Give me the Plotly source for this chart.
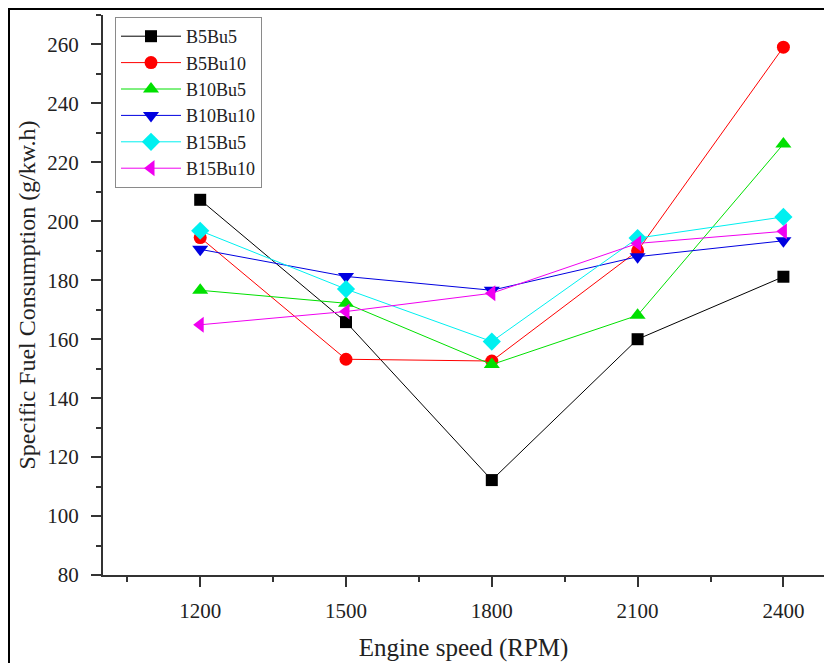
import plotly.graph_objects as go

# Engine speed (RPM) and specific fuel consumption (g/kW.h) per blend
speeds = [1200, 1500, 1800, 2100, 2400]
b5bu5 = [207.3, 165.8, 112.2, 160.0, 181.2]
b5bu10 = [194.5, 153.2, 152.6, 190.0, 259.1]
b10bu5 = [176.6, 172.2, 151.4, 168.1, 226.2]
b10bu10 = [190.5, 181.3, 176.6, 188.0, 193.4]
b15bu5 = [196.8, 177.0, 159.2, 194.3, 201.5]
b15bu10 = [164.9, 169.4, 175.6, 192.5, 196.6]

series_names = ["B5Bu5", "B5Bu10", "B10Bu5", "B10Bu10", "B15Bu5", "B15Bu10"]
series_values = [b5bu5, b5bu10, b10bu5, b10bu10, b15bu5, b15bu10]
colors = ["#000000", "#FF0000", "#00E000", "#0000E0", "#00F0F0", "#F000F0"]
symbols = ["square", "circle", "triangle-up", "triangle-down", "diamond", "triangle-left"]
sizes = [12, 13, 14, 14, 14, 14]

FONT = "Liberation Serif, Times New Roman, serif"
TXT = "#222222"

fig = go.Figure()
for name, vals, c, s, sz in zip(series_names, series_values, colors, symbols, sizes):
    fig.add_trace(go.Scatter(
        x=speeds, y=vals, name=name, mode="lines+markers",
        line=dict(color=c, width=1),
        marker=dict(symbol=s, size=sz, color=c, line=dict(width=0)),
    ))

W, H = 824, 663
L, R, T, B = 103, 0, 15, 88
pw, ph = W - L - R, H - T - B

fig.update_layout(
    width=W, height=H,
    margin=dict(l=L, r=R, t=T, b=B),
    paper_bgcolor="white", plot_bgcolor="white",
    font=dict(family=FONT, color=TXT, size=21),
    showlegend=True,
    legend=dict(
        x=(115 - L) / pw, y=1 - (17 - T) / ph, xanchor="left", yanchor="top",
        bordercolor="#8a8a8a", borderwidth=1, bgcolor="white",
        font=dict(family=FONT, size=18, color=TXT),
        itemwidth=60, tracegroupgap=0,
    ),
    xaxis=dict(
        range=[1000, 1000 + 300 * pw / 145.8],
        tickmode="array", tickvals=speeds, ticktext=[str(v) for v in speeds],
        ticks="outside", ticklen=10, tickwidth=2, tickcolor="#333333",
        showline=True, linecolor="#333333", linewidth=2,
        showgrid=False, zeroline=False,
        minor=dict(tickvals=[1050, 1350, 1650, 1950, 2250], ticks="outside",
                   ticklen=5, tickwidth=2, tickcolor="#333333", showgrid=False),
        ticklabelstandoff=6,
        tickfont=dict(family=FONT, size=21, color=TXT),
        title=dict(text="Engine speed (RPM)", standoff=16,
                   font=dict(family=FONT, size=25, color=TXT)),
    ),
    yaxis=dict(
        range=[80, 270], tick0=80, dtick=20,
        ticks="outside", ticklen=10, tickwidth=2, tickcolor="#333333",
        showline=True, linecolor="#333333", linewidth=2,
        showgrid=False, zeroline=False,
        minor=dict(dtick=10, tick0=80, ticks="outside", ticklen=5, tickwidth=2,
                   tickcolor="#333333", showgrid=False),
        ticklabelstandoff=8,
        tickfont=dict(family=FONT, size=21, color=TXT),
        title=dict(text="Specific Fuel Consumption (g/kw.h)", standoff=5,
                   font=dict(family=FONT, size=24, color=TXT)),
    ),
)

# outer frame around the figure (left and top edges visible)
fig.add_shape(
    type="rect", xref="paper", yref="paper",
    x0=(9 - L) / pw, x1=1.2, y0=-0.4, y1=1 + (T - 9) / ph,
    line=dict(color="black", width=2), fillcolor="rgba(0,0,0,0)", layer="above",
)

fig.write_html("out.html")
